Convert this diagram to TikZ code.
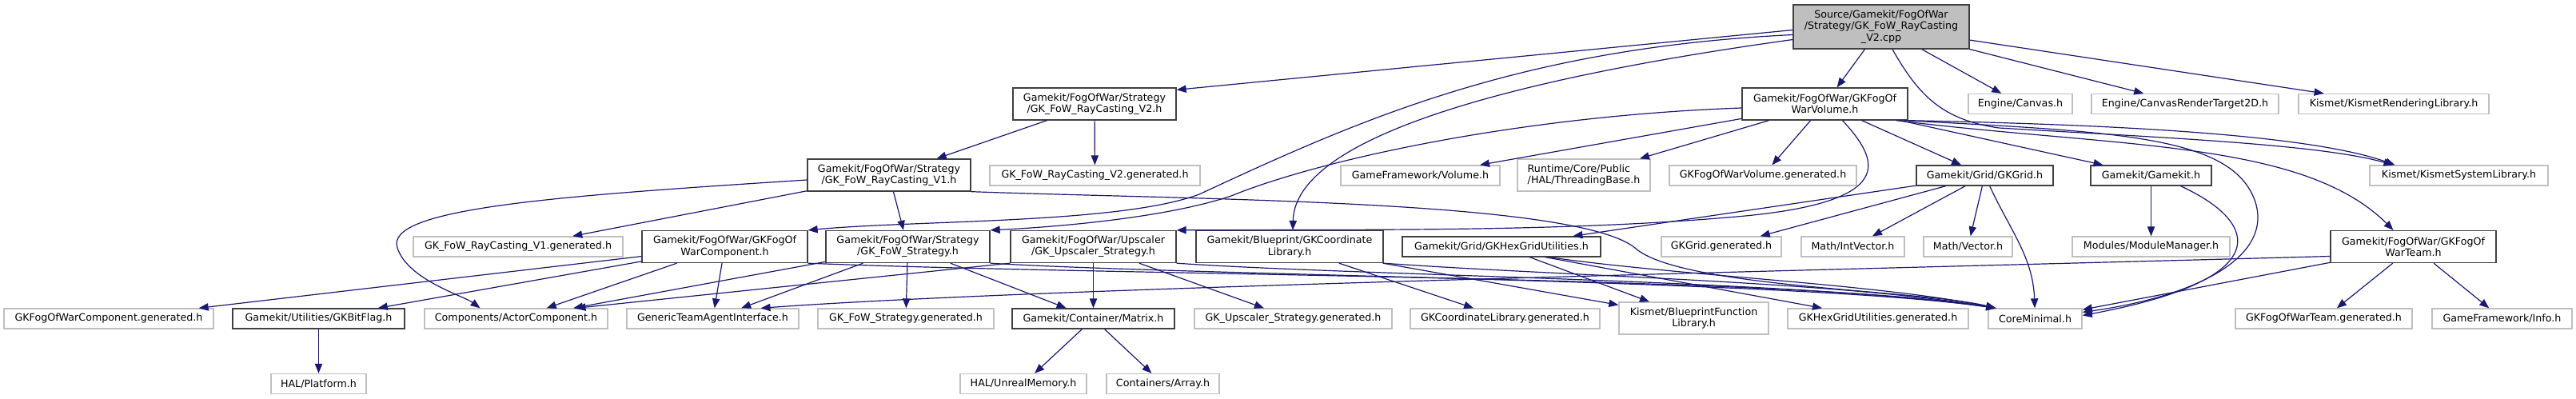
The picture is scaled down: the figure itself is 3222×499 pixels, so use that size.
\documentclass[tikz,border=0pt]{standalone}
\usepackage{fontspec}
\setmainfont{DejaVu Sans}
\usepackage{tikz}
\usetikzlibrary{calc,arrows.meta}
\usepackage{xcolor}
\definecolor{edgeblue}{HTML}{191970}
\definecolor{boxgray}{HTML}{BFBFBF}
\definecolor{docgray}{HTML}{404040}

\tikzset{
  hfile/.style={draw=boxgray, line width=1pt, fill=white, inner xsep=1pt, inner ysep=1pt,
    align=center, font=\fontsize{9.5}{10.7}\selectfont},
  hdoc/.style={hfile, draw=docgray},
  hroot/.style={hfile, draw=docgray, fill=boxgray},
  one/.style={minimum height=18.75pt},
  two/.style={minimum height=30pt},
  bw/.style={minimum width=#1*0.75pt},
  inc/.style={draw=edgeblue, line width=0.9pt, -{Triangle[length=9pt,width=7pt]}}
}

\begin{document}
\begin{tikzpicture}[x=0.75pt, y=-0.75pt]
  \useasboundingbox (0,0) rectangle (3222,499);

  % the file itself
  \node[hroot, bw=220, minimum height=41.25pt] (R) at (2353,33.5) {Source/Gamekit/FogOfWar\\/Strategy/GK\_FoW\_RayCasting\\\_V2.cpp};

  % first level
  \node[hdoc, two, bw=204] (v2h) at (1369,130) {Gamekit/FogOfWar/Strategy\\/GK\_FoW\_RayCasting\_V2.h};
  \node[hdoc, two, bw=207] (vol) at (2282.5,130) {Gamekit/FogOfWar/GKFogOf\\WarVolume.h};
  \node[hfile, one, bw=130] (canvas) at (2527,130) {Engine/Canvas.h};
  \node[hfile, one, bw=234] (crt) at (2733,130) {Engine/CanvasRenderTarget2D.h};
  \node[hfile, one, bw=238] (krl) at (2994,130) {Kismet/KismetRenderingLibrary.h};

  \node[hdoc, two, bw=204] (v1h) at (1112,219) {Gamekit/FogOfWar/Strategy\\/GK\_FoW\_RayCasting\_V1.h};
  \node[hfile, one, bw=263] (v2gen) at (1369.5,219.5) {GK\_FoW\_RayCasting\_V2.generated.h};
  \node[hfile, one, bw=199] (gfvol) at (1776.5,219.5) {GameFramework/Volume.h};
  \node[hfile, two, bw=166, align=left] (thr) at (1981,219) {Runtime/Core/Public\\/HAL/ThreadingBase.h};
  \node[hfile, one, bw=234] (volgen) at (2205,219.5) {GKFogOfWarVolume.generated.h};
  \node[hdoc, one, bw=171] (grid) at (2482.5,219.5) {Gamekit/Grid/GKGrid.h};
  \node[hdoc, one, bw=151] (gk) at (2690.5,219.5) {Gamekit/Gamekit.h};
  \node[hfile, one, bw=223] (ksl) at (3075.5,219.5) {Kismet/KismetSystemLibrary.h};

  \node[hfile, one, bw=262] (v1gen) at (648,308.5) {GK\_FoW\_RayCasting\_V1.generated.h};
  \node[hdoc, two, bw=207] (comp) at (906.5,308.5) {Gamekit/FogOfWar/GKFogOf\\WarComponent.h};
  \node[hdoc, two, bw=205] (strat) at (1135.5,308.5) {Gamekit/FogOfWar/Strategy\\/GK\_FoW\_Strategy.h};
  \node[hdoc, two, bw=207] (ups) at (1367.5,308.5) {Gamekit/FogOfWar/Upscaler\\/GK\_Upscaler\_Strategy.h};
  \node[hdoc, two, bw=234] (coord) at (1613,308.5) {Gamekit/Blueprint/GKCoordinate\\Library.h};
  \node[hdoc, one, bw=248] (hex) at (1878,308.5) {Gamekit/Grid/GKHexGridUtilities.h};
  \node[hfile, one, bw=150] (gridgen) at (2153,308.5) {GKGrid.generated.h};
  \node[hfile, one, bw=129] (ivec) at (2317.5,308.5) {Math/IntVector.h};
  \node[hfile, one, bw=111] (vec) at (2461.5,308.5) {Math/Vector.h};
  \node[hfile, one, bw=197] (mod) at (2690.5,308.5) {Modules/ModuleManager.h};
  \node[hdoc, two, bw=207] (team) at (3018.5,308.5) {Gamekit/FogOfWar/GKFogOf\\WarTeam.h};

  \node[hfile, one, bw=262] (compgen) at (136,398.5) {GKFogOfWarComponent.generated.h};
  \node[hdoc, one, bw=215] (bitflag) at (398.5,398.5) {Gamekit/Utilities/GKBitFlag.h};
  \node[hfile, one, bw=229] (actor) at (645.5,398.5) {Components/ActorComponent.h};
  \node[hfile, one, bw=215] (gtai) at (891.5,398.5) {GenericTeamAgentInterface.h};
  \node[hfile, one, bw=220] (stratgen) at (1133,398.5) {GK\_FoW\_Strategy.generated.h};
  \node[hdoc, one, bw=203] (matrix) at (1367.5,398.5) {Gamekit/Container/Matrix.h};
  \node[hfile, one, bw=247] (upsgen) at (1617.5,398.5) {GK\_Upscaler\_Strategy.generated.h};
  \node[hfile, one, bw=237] (coordgen) at (1882.5,398.5) {GKCoordinateLibrary.generated.h};
  \node[hfile, two, bw=187] (bfl) at (2118.5,398) {Kismet/BlueprintFunction\\Library.h};
  \node[hfile, one, bw=226] (hexgen) at (2349,398.5) {GKHexGridUtilities.generated.h};
  \node[hfile, one, bw=117] (core) at (2545.5,398.5) {CoreMinimal.h};
  \node[hfile, one, bw=221] (teamgen) at (2906.5,398.5) {GKFogOfWarTeam.generated.h};
  \node[hfile, one, bw=175] (info) at (3129.5,398.5) {GameFramework/Info.h};

  \node[hfile, one, bw=119] (platform) at (398.5,480) {HAL/Platform.h};
  \node[hfile, one, bw=158] (umem) at (1280,480) {HAL/UnrealMemory.h};
  \node[hfile, one, bw=141] (array) at (1454.5,480) {Containers/Array.h};

  % includes of the cpp
  \draw[inc] ($(R.west)+(0,4)$) -- ($(v2h.north east)+(0,3)$);
  \draw[inc] (R) -- (vol);
  \draw[inc] (R) -- (canvas);
  \draw[inc] (R) -- (crt);
  \draw[inc] (R) -- (krl);
  \draw[inc] ($(R.west)+(0,10)$) .. controls (1900,60) and (1700,150) .. (1500,243)
    .. controls (1400,280) and (1150,275) .. (comp.north east);
  \draw[inc] ($(R.west)+(0,16)$) .. controls (1950,90) and (1620,160) .. ($(coord.north)+(4,0)$);
  \draw[inc] ($(R.south)+(14,0)$) .. controls (2400,120) and (2430,150) .. (2500,160)
    .. controls (2700,172) and (2900,180) .. ($(ksl.north)+(-82,0)$);

  \draw[inc] (v2h) -- (v1h);
  \draw[inc] (v2h) -- (v2gen);

  % volume
  \draw[inc] (vol) -- (gfvol);
  \draw[inc] (vol) -- (thr);
  \draw[inc] (vol) -- (volgen);
  \draw[inc] (vol) -- (grid);
  \draw[inc] (vol) -- (gk);
  \draw[inc] ($(vol.west)+(0,5)$) .. controls (1900,145) and (1650,200) .. (1540,245)
    .. controls (1450,275) and (1300,285) .. (strat.north east);
  \draw[inc] ($(vol.south)+(22,0)$) .. controls (2350,200) and (2380,255) .. (2160,272)
    .. controls (1950,290) and (1700,287) .. (ups.north east);
  \draw[inc] (vol.south east) .. controls (2600,155) and (2880,165) .. ($(ksl.north)+(-80,0)$);
  \draw[inc] ($(vol.south east)+(-15,0)$) .. controls (2650,185) and (2880,175) .. ($(team.north)+(-25,0)$);
  \draw[inc] ($(vol.south east)+(-5,0)$) .. controls (2650,165) and (2790,170) .. (2820,250)
    .. controls (2845,320) and (2750,370) .. ($(core.east)+(0,-8)$);

  \draw[inc] (grid) -- (hex);
  \draw[inc] (grid) -- (gridgen);
  \draw[inc] (grid) -- (ivec);
  \draw[inc] (grid) -- (vec);
  \draw[inc] (grid) to[out=-65,in=92] (core);

  \draw[inc] (gk) -- (mod);
  \draw[inc] ($(gk.south)+(37,0)$) .. controls (2830,280) and (2845,350) .. ($(core.east)+(0,-4)$);

  \draw[inc] (team) -- (teamgen);
  \draw[inc] (team) -- (info);
  \draw[inc] (team) -- (core);
  \draw[inc] ($(team.west)+(0,12)$) .. controls (2200,340) and (1300,360) .. ($(gtai.north)+(60,0)$);

  % strategy headers
  \draw[inc] (v1h) -- (v1gen);
  \draw[inc] (v1h) -- (strat);
  \draw[inc] ($(v1h.west)+(0,6)$) .. controls (700,245) and (480,260) .. (497,310)
    .. controls (510,350) and (580,370) .. ($(actor.north)+(-45,0)$);
  \draw[inc] (v1h.south east) .. controls (1500,250) and (1970,250) .. (2045,310)
    .. controls (2100,360) and (2400,362) .. ($(core.north west)+(10,0)$);

  \draw[inc] (comp) -- (compgen);
  \draw[inc] (comp) -- (bitflag);
  \draw[inc] (comp) -- (actor);
  \draw[inc] (comp) -- (gtai);
  \draw[inc] (comp.south east) .. controls (1400,345) and (2250,345) .. ($(core.north west)+(10,0)$);

  \draw[inc] (strat) -- (actor);
  \draw[inc] (strat) -- (gtai);
  \draw[inc] (strat) -- (stratgen);
  \draw[inc] (strat) -- (matrix);
  \draw[inc] (strat.south east) .. controls (1500,345) and (2250,350) .. ($(core.north west)+(10,0)$);

  \draw[inc] (ups.south west) -- ($(actor.north)+(75,0)$);
  \draw[inc] (ups) -- (matrix);
  \draw[inc] (ups) -- (upsgen);
  \draw[inc] (ups.south east) .. controls (1700,345) and (2250,350) .. ($(core.north west)+(10,0)$);

  \draw[inc] (coord) -- (coordgen);
  \draw[inc] (coord) -- (bfl);
  \draw[inc] (coord.south east) .. controls (1950,345) and (2300,352) .. ($(core.north west)+(10,0)$);

  \draw[inc] (hex) -- (bfl);
  \draw[inc] ($(hex.south)+(55,0)$) -- ($(hexgen.north)+(-70,0)$);
  \draw[inc] ($(hex.south)+(60,0)$) .. controls (2100,345) and (2350,355) .. ($(core.north west)+(10,0)$);

  \draw[inc] (matrix) -- (umem);
  \draw[inc] (matrix) -- (array);
  \draw[inc] (bitflag) -- (platform);
\end{tikzpicture}
\end{document}
